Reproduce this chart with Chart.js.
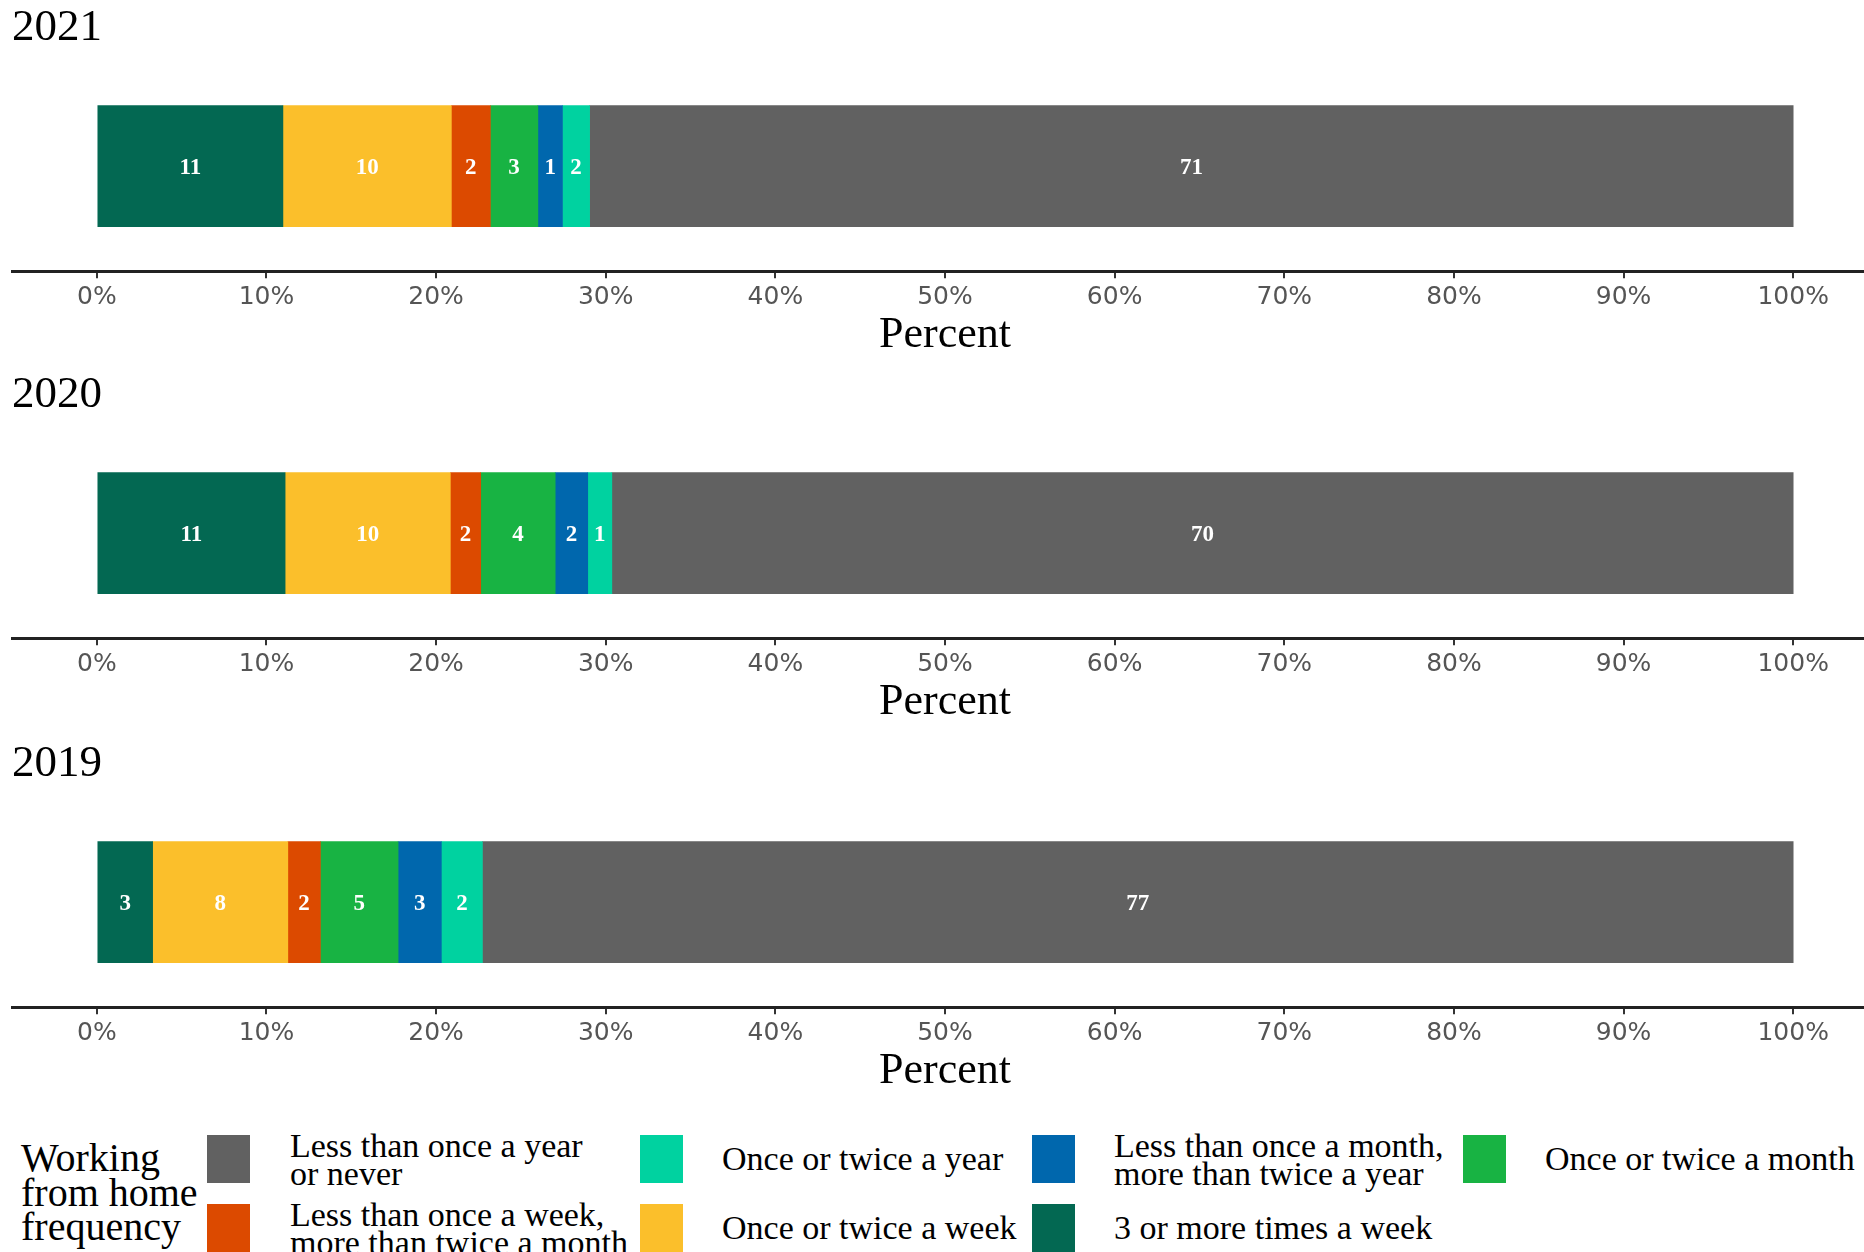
<!DOCTYPE html>
<html><head><meta charset="utf-8">
<script src="https://cdn.jsdelivr.net/npm/chart.js@4.4.1/dist/chart.umd.min.js"></script>
<style>
html,body{margin:0;padding:0;background:#fff;overflow:hidden;width:1864px;height:1252px;position:relative;}
.panel{position:absolute;left:0;width:1880px;height:368px;}
.lt{position:absolute;font-family:"Liberation Serif",serif;font-size:40px;line-height:34.5px;color:#000;white-space:nowrap;}
.key{position:absolute;width:43px;height:48px;}
.ltxt{position:absolute;font-family:"Liberation Serif",serif;font-size:34px;line-height:27.5px;color:#000;white-space:nowrap;transform:translateY(-50%);}
</style></head><body>
<div class="panel" style="top:0px"><canvas id="c0" width="1880" height="368"></canvas></div>
<div class="panel" style="top:367px"><canvas id="c1" width="1880" height="368"></canvas></div>
<div class="panel" style="top:736px"><canvas id="c2" width="1880" height="368"></canvas></div>
<div id="legend"></div>
<script>
// ---- data ----
const years = ['2021', '2020', '2019'];
const categories = [
  '3 or more times a week',
  'Once or twice a week',
  'Less than once a week, more than twice a month',
  'Once or twice a month',
  'Less than once a month, more than twice a year',
  'Once or twice a year',
  'Less than once a year or never'
];
const values2021 = [10.97, 9.93, 2.30, 2.80, 1.45, 1.60, 70.95];
const values2020 = [11.10, 9.74, 1.79, 4.39, 1.92, 1.42, 69.64];
const values2019 = [3.29, 7.97, 1.92, 4.58, 2.55, 2.42, 77.27];
const labels2021 = ['11', '10', '2', '3', '1', '2', '71'];
const labels2020 = ['11', '10', '2', '4', '2', '1', '70'];
const labels2019 = ['3', '8', '2', '5', '3', '2', '77'];
const xTicks = [0, 10, 20, 30, 40, 50, 60, 70, 80, 90, 100];
const axisTitle = 'Percent';
const legendTitle = ['Working', 'from home', 'frequency'];
// legend order (row-major): indices into categories
const legendOrder = [6, 5, 4, 3, 2, 1, 0];
const legendText = {
  6: ['Less than once a year', 'or never'],
  5: ['Once or twice a year'],
  4: ['Less than once a month,', 'more than twice a year'],
  3: ['Once or twice a month'],
  2: ['Less than once a week,', 'more than twice a month'],
  1: ['Once or twice a week'],
  0: ['3 or more times a week']
};

// ---- styles ----
const colors = ['#036852', '#fbbf2b', '#dc4a00', '#18b343', '#0067ad', '#00d2a0', '#616161'];

const panels = [
  {year: years[0], values: values2021, labels: labels2021},
  {year: years[1], values: values2020, labels: labels2020},
  {year: years[2], values: values2019, labels: labels2019}
];

const barLabels = {
  id: 'barLabels',
  afterDatasetsDraw(chart) {
    const ctx = chart.ctx;
    ctx.save();
    ctx.font = 'bold 23px "Liberation Serif", serif';
    ctx.fillStyle = '#ffffff';
    ctx.textAlign = 'center';
    ctx.textBaseline = 'middle';
    chart.data.datasets.forEach((ds, i) => {
      const meta = chart.getDatasetMeta(i);
      meta.data.forEach((el) => {
        ctx.fillText(ds.segLabel, (el.x + el.base) / 2, el.y + 2);
      });
    });
    ctx.restore();
  }
};

panels.forEach((p, k) => {
  const datasets = categories.map((cat, i) => ({
    label: cat,
    data: [p.values[i]],
    segLabel: p.labels[i],
    backgroundColor: colors[i],
    borderWidth: 0,
    barThickness: 121
  }));
  new Chart(document.getElementById('c' + k), {
    type: 'bar',
    data: {labels: [p.year], datasets},
    plugins: [barLabels],
    options: {
      indexAxis: 'y',
      responsive: false,
      animation: false,
      layout: {padding: {left: 12, right: 2, top: 0, bottom: 13}},
      plugins: {
        legend: {display: false},
        tooltip: {enabled: false},
        title: {
          display: true, text: p.year, align: 'start', color: '#000',
          font: {family: '"Liberation Serif", serif', size: 45, weight: 'normal'},
          padding: {top: 1, bottom: 6}
        }
      },
      scales: {
        x: {
          type: 'linear', stacked: true, min: -5, max: 105,
          afterBuildTicks: (s) => { s.ticks = xTicks.map(v => ({value: v})); },
          ticks: {
            callback: (v) => v + '%', color: '#555555', autoSkip: false, maxRotation: 0,
            font: {family: '"DejaVu Sans", sans-serif', size: 25}, padding: 4
          },
          grid: {display: true, drawOnChartArea: false, drawTicks: true, tickLength: 7, color: '#333', lineWidth: 2},
          border: {display: true, color: '#222', width: 3},
          title: {
            display: true, text: axisTitle, color: '#000',
            font: {family: '"Liberation Serif", serif', size: 44, lineHeight: 0.88},
            padding: {top: 0, bottom: 0}
          }
        },
        y: {stacked: true, display: false}
      }
    }
  });
});

// ---- HTML legend ----
const leg = document.getElementById('legend');
const lt = document.createElement('div');
lt.className = 'lt';
lt.style.left = '21px';
lt.style.top = '1141px';
lt.innerHTML = legendTitle.join('<br>');
leg.appendChild(lt);
const keyLeft = [207, 640, 1032, 1463];
const textLeft = [290, 722, 1114, 1545];
const rowTop = [1135, 1204];
legendOrder.forEach((ci, n) => {
  const r = Math.floor(n / 4), c = n % 4;
  const key = document.createElement('div');
  key.className = 'key';
  key.style.left = keyLeft[c] + 'px';
  key.style.top = rowTop[r] + 'px';
  key.style.background = colors[ci];
  leg.appendChild(key);
  const t = document.createElement('div');
  t.className = 'ltxt';
  t.style.left = textLeft[c] + 'px';
  t.style.top = (rowTop[r] + 24) + 'px';
  t.innerHTML = legendText[ci].join('<br>');
  leg.appendChild(t);
});
</script>
</body></html>
